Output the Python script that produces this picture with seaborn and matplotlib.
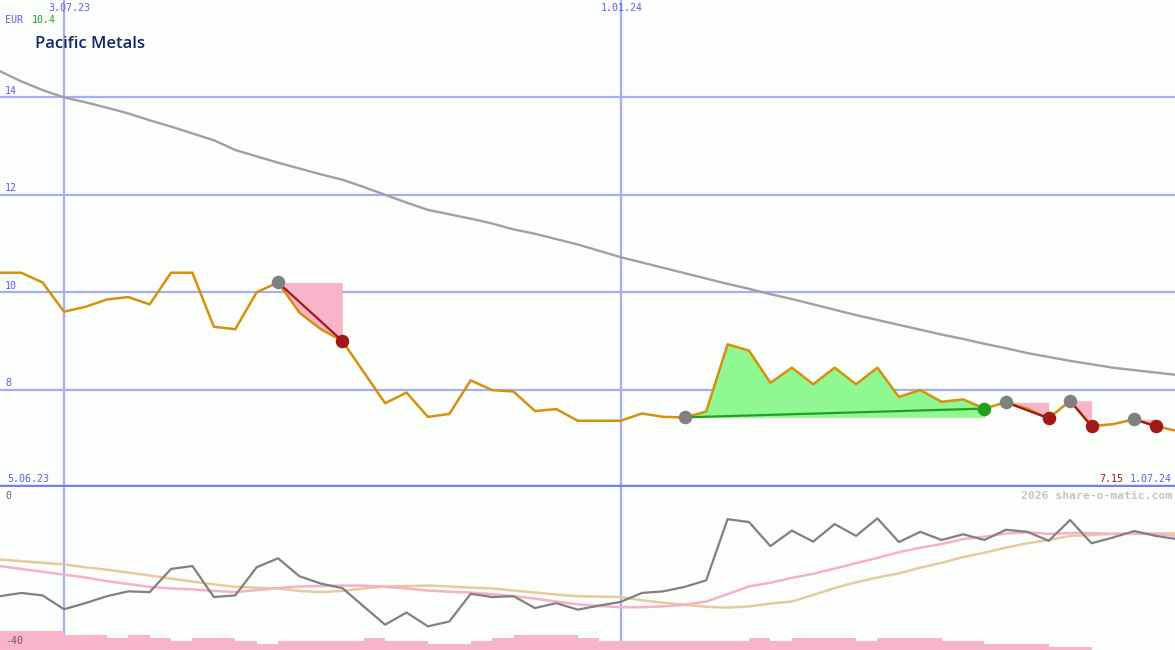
import numpy as np
import pandas as pd
import matplotlib
matplotlib.use("Agg")
import matplotlib.pyplot as plt
import seaborn as sns

# ---------------- data (weekly, k = weeks from 3.07.23) ----------------
weeks = list(range(-3, 53))
price = [10.40, 10.40, 10.20, 9.60, 9.70, 9.85, 9.90, 9.75, 10.40, 10.40,
         9.29, 9.24, 10.00, 10.20, 9.58, 9.24, 9.00, 8.36, 7.72, 7.94,
         7.44, 7.50, 8.19, 7.99, 7.96, 7.56, 7.60, 7.36, 7.36, 7.36,
         7.51, 7.44, 7.43, 7.55, 8.93, 8.80, 8.14, 8.45, 8.11, 8.45,
         8.11, 8.45, 7.85, 7.99, 7.75, 7.80, 7.61, 7.74, 7.61, 7.41,
         7.77, 7.25, 7.29, 7.39, 7.25, 7.15]
ma_long = [14.54, 14.33, 14.15, 14.00, 13.90, 13.79, 13.67, 13.53, 13.40, 13.26,
           13.12, 12.92, 12.79, 12.66, 12.54, 12.42, 12.31, 12.16, 12.00, 11.84,
           11.69, 11.60, 11.51, 11.41, 11.29, 11.20, 11.09, 10.98, 10.85, 10.72,
           10.61, 10.50, 10.39, 10.28, 10.17, 10.07, 9.96, 9.86, 9.75, 9.64,
           9.53, 9.43, 9.33, 9.23, 9.13, 9.04, 8.94, 8.85, 8.75, 8.67,
           8.59, 8.52, 8.45, 8.40, 8.35, 8.30]
osc = [-26.8, -26.0, -26.6, -30.0, -28.5, -26.8, -25.6, -25.8, -20.1, -19.4,
       -27.0, -26.6, -19.7, -17.5, -21.9, -23.7, -24.8, -29.3, -33.8, -30.8,
       -34.2, -33.0, -26.2, -27.0, -26.8, -29.7, -28.5, -30.1, -29.1, -28.2,
       -26.0, -25.6, -24.5, -22.9, -7.9, -8.6, -14.5, -10.7, -13.4, -9.1,
       -12.0, -7.7, -13.5, -11.0, -13.0, -11.6, -13.0, -10.5, -11.0, -13.2,
       -8.1, -13.8, -12.4, -10.8, -12.0, -12.8]
osc_fast = [-19.4, -20.1, -20.8, -21.5, -22.2, -23.1, -23.8, -24.5, -24.9, -25.1,
            -25.5, -25.8, -25.3, -24.8, -24.4, -24.3, -24.2, -24.2, -24.5, -24.9,
            -25.4, -25.7, -25.9, -26.3, -26.8, -27.4, -28.1, -28.8, -29.2, -29.5,
            -29.5, -29.3, -28.9, -28.1, -26.3, -24.4, -23.5, -22.3, -21.3, -20.0,
            -18.7, -17.4, -16.0, -14.9, -14.0, -12.8, -12.2, -11.4, -11.1, -11.5,
            -11.3, -11.3, -11.5, -11.5, -11.5, -12.0]
osc_slow = [-17.8, -18.2, -18.6, -19.0, -19.7, -20.3, -21.0, -21.7, -22.5, -23.2,
            -23.9, -24.5, -24.7, -24.9, -25.5, -25.8, -25.5, -24.9, -24.4, -24.3,
            -24.2, -24.4, -24.7, -24.9, -25.4, -25.9, -26.4, -26.8, -26.9, -27.0,
            -27.8, -28.4, -28.9, -29.4, -29.6, -29.3, -28.6, -28.1, -26.5, -24.8,
            -23.4, -22.2, -21.2, -19.8, -18.6, -17.2, -16.1, -14.9, -13.8, -13.0,
            -12.0, -11.8, -11.5, -11.4, -11.4, -11.4]
# volume-like bars (height above panel floor), one per weekly interval
vol = [4.7, 4.7, 4.7, 3.7, 3.7, 3.0, 3.7, 3.0, 2.2, 3.0,
       3.0, 2.2, 1.5, 2.2, 2.2, 2.2, 2.2, 3.0, 2.2, 2.2,
       1.5, 1.5, 2.2, 3.0, 3.7, 3.7, 3.7, 3.0, 2.2, 2.2,
       2.2, 2.2, 2.2, 2.2, 2.2, 3.0, 2.2, 3.0, 3.0, 3.0,
       2.2, 3.0, 3.0, 3.0, 2.2, 2.2, 1.5, 1.5, 1.5, 0.7,
       0.7, 0.0, 0.0, 0.0, 0.0]
# trades: (entry week, exit week, winning?)
trade_entry = [10, 29, 44, 47, 50]
trade_exit = [13, 43, 46, 48, 51]
trade_win = [False, True, False, False, False]

date_ticks = [0, 26]
date_labels = ["3.07.23", "1.01.24"]
price_grid = [8, 10, 12, 14]

df = pd.DataFrame({"week": weeks, "price": price, "ma": ma_long,
                   "osc": osc, "fast": osc_fast, "slow": osc_slow})

# ---------------- styling ----------------
sns.set_style("white")
plt.rcParams["font.family"] = ["DejaVu Sans Mono"]
BG = "#fcfefc"
GRID = "#a4aef4"
SEP = "#7080f0"
LBL = "#5560ee"

W, H = 1175, 650
fig = plt.figure(figsize=(W / 100, H / 100), dpi=100, facecolor=BG)
ax1 = fig.add_axes([0, 163 / H, 1, 487 / H])
ax2 = fig.add_axes([0, 0, 1, 163 / H])
XL = (-2.99, 51.9)
for ax in (ax1, ax2):
    ax.set_facecolor(BG)
    ax.set_xlim(*XL)
    for s in ax.spines.values():
        s.set_visible(False)
    ax.set_xticks([])
    ax.set_yticks([])
ax1.set_ylim(6, 16)
ax2.set_ylim(-40, 0)

# grid
for g in price_grid:
    ax1.axhline(g, color=GRID, lw=1.6, zorder=1)
for d in date_ticks:
    ax1.axvline(d, color=GRID, lw=1.6, zorder=1)
    ax2.axvline(d, color=GRID, lw=1.6, zorder=1)
ax1.axhline(6, color=SEP, lw=3.2, zorder=6, clip_on=False)

# trade fills
wk = np.array(weeks)
pr = np.array(price)
for e, x, win in zip(trade_entry, trade_exit, trade_win):
    i0, i1 = e + 3, x + 3
    seg_w = wk[i0:i1 + 1]
    seg_p = pr[i0:i1 + 1]
    ax1.fill_between(seg_w, pr[i0], seg_p,
                     color="#90f890" if win else "#f8b4c8", lw=0, zorder=2)

# long moving average
sns.lineplot(data=df, x="week", y="ma", ax=ax1, color="#a0a0a0", lw=1.7,
             zorder=3, legend=False)
# price
sns.lineplot(data=df, x="week", y="price", ax=ax1, color="#d8900c", lw=1.8,
             zorder=4, legend=False)

# trade connectors and markers
for e, x, win in zip(trade_entry, trade_exit, trade_win):
    i0, i1 = e + 3, x + 3
    c = "#22a022" if win else "#a01818"
    ax1.plot([wk[i0], wk[i1]], [pr[i0], pr[i1]], color=c, lw=1.6, zorder=5)
    ax1.scatter([wk[i0]], [pr[i0]], s=95, color="#808080", lw=0, zorder=6)
    ax1.scatter([wk[i1]], [pr[i1]], s=95, color=c, lw=0, zorder=6)
ax1.set_xlabel("")
ax1.set_ylabel("")

# lower panel
ax2.bar(np.array(weeks[:-1]) + 0.5, vol, width=1.0, bottom=-40,
        color="#f8b4c8", lw=0, zorder=2)
sns.lineplot(data=df, x="week", y="slow", ax=ax2, color="#e4cc9c", lw=1.8,
             zorder=3, legend=False)
sns.lineplot(data=df, x="week", y="fast", ax=ax2, color="#f8b0c8", lw=1.8,
             zorder=3, legend=False)
sns.lineplot(data=df, x="week", y="osc", ax=ax2, color="#808080", lw=1.6,
             zorder=4, legend=False)
ax2.set_xlabel("")
ax2.set_ylabel("")
ax2.set_xlim(*XL)
ax1.set_xlim(*XL)


# ---------------- texts (pixel positions) ----------------
def ftext(px, py, s, **kw):
    fig.text(px / W, 1 - py / H, s, va="center", **kw)


FS = 7.2
ftext(48, 8, date_labels[0], color=LBL, fontsize=FS)
ftext(601, 8, date_labels[1], color=LBL, fontsize=FS)
ftext(5, 20, "EUR", color=LBL, fontsize=FS)
ftext(32, 20, f"{price[0]:.1f}", color="#20a020", fontsize=FS)
ftext(35, 44, "Pacific Metals", color="#142868", fontsize=12,
      family=["Open Sans", "DejaVu Sans"], fontweight="semibold")
for g, yy in zip(price_grid, [383, 286, 188, 91]):
    ftext(5, yy, str(g), color=LBL, fontsize=FS)
ftext(7, 479, "5.06.23", color=LBL, fontsize=FS)
ftext(1172, 479, "1.07.24", color=LBL, fontsize=FS, ha="right")
ftext(1123, 479, f"{price[-1]:.2f}", color="#a01818", fontsize=FS, ha="right")
ftext(1172, 496, "2026 share-o-matic.com", color="#c4c4c4", fontsize=8.2,
      ha="right", fontweight="bold")
ftext(5, 496, "0", color="#606060", fontsize=FS)
ftext(5, 641, "-40", color="#606060", fontsize=FS)

fig.savefig("out.png", dpi=100, facecolor=BG)
